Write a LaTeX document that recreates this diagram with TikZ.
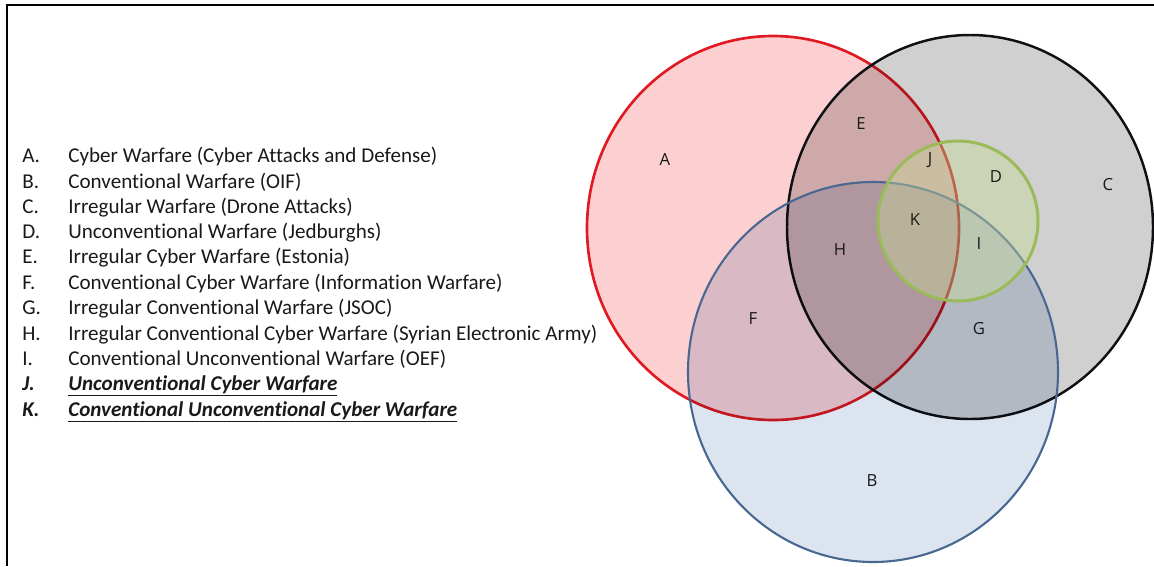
\documentclass[tikz,border=0pt]{standalone}
\usepackage{fontspec}
\setmainfont{Carlito}[Ligatures=NoCommon]
\newfontfamily\lblfont{Open Sans}
\definecolor{redline}{RGB}{225,25,35}
\definecolor{redfill}{RGB}{252,208,208}
\definecolor{blackline}{RGB}{15,15,20}
\definecolor{grayfill}{RGB}{208,208,208}
\definecolor{blueline}{RGB}{72,104,145}
\definecolor{bluefill}{RGB}{220,228,240}
\definecolor{greenline}{RGB}{155,187,89}
\definecolor{greenfill}{RGB}{200,220,150}
\definecolor{txt}{RGB}{25,25,25}
\tikzset{
  lgl/.style={anchor=base west,inner sep=0pt,text=txt,font=\fontsize{12pt}{14pt}\selectfont},
  lgt/.style={anchor=base west,inner sep=0pt,text=txt,font=\fontsize{12pt}{14pt}\selectfont},
  lgk/.style={anchor=base west,inner sep=0pt,text=txt,font=\fontsize{12pt}{14pt}\selectfont\bfseries\itshape},
  reg/.style={inner sep=0pt,text=txt,font=\lblfont\fontsize{9.5pt}{11pt}\selectfont},
  frame/.style={line width=1.2pt,black}
}
\begin{document}
\begin{tikzpicture}[x=0.02cm,y=-0.02cm]
\useasboundingbox (0,0) rectangle (1154,566);
% frame
\draw[frame] (7,566) -- (7,5) -- (1154,5);
% circles
\fill[redfill,blend mode=multiply] (773,228) ellipse [x radius=186,y radius=192];
\draw[redline,line width=1.5pt] (773,228) ellipse [x radius=186,y radius=192];
\fill[grayfill,blend mode=multiply] (970,227) ellipse [x radius=183,y radius=192];
\draw[blackline,line width=1.4pt] (970,227) ellipse [x radius=183,y radius=192];
\fill[bluefill,blend mode=multiply] (873,372) ellipse [x radius=185,y radius=190];
\draw[blueline,line width=1.2pt] (873,372) ellipse [x radius=185,y radius=190];
\fill[greenfill,fill opacity=0.4] (958,221) circle [radius=80];
\draw[greenline,line width=1.7pt] (958,221) circle [radius=80];
% region labels
\node[reg] (rA) at (665,160) {A};
\node[reg] (rE) at (861,124) {E};
\node[reg] (rJ) at (930,160) {J};
\node[reg] (rD) at (996,177) {D};
\node[reg] (rC) at (1108,185) {C};
\node[reg] (rK) at (915,220) {K};
\node[reg] (rH) at (840,250) {H};
\node[reg] (rI) at (979,244) {I};
\node[reg] (rF) at (753,319) {F};
\node[reg] (rG) at (979,329) {G};
\node[reg] (rB) at (872,481) {B};
% legend
\node[lgl] (la) at (22,162) {A.};
\node[lgt] (ta) at (68,162) {Cyber Warfare (Cyber Attacks and Defense)};
\node[lgl] (lb) at (22,188) {B.};
\node[lgt] (tb) at (68,188) {Conventional Warfare (OIF)};
\node[lgl] (lc) at (22,213) {C.};
\node[lgt] (tc) at (68,213) {Irregular Warfare (Drone Attacks)};
\node[lgl] (ld) at (22,238) {D.};
\node[lgt] (td) at (68,238) {Unconventional Warfare (Jedburghs)};
\node[lgl] (le) at (22,263) {E.};
\node[lgt] (te) at (68,263) {Irregular Cyber Warfare (Estonia)};
\node[lgl] (lf) at (22,289) {F.};
\node[lgt] (tf) at (68,289) {Conventional Cyber Warfare (Information Warfare)};
\node[lgl] (lg) at (22,314) {G.};
\node[lgt] (tg) at (68,314) {Irregular Conventional Warfare (JSOC)};
\node[lgl] (lh) at (22,340) {H.};
\node[lgt] (th) at (68,340) {Irregular Conventional Cyber Warfare (Syrian Electronic Army)};
\node[lgl] (li) at (22,365) {I.};
\node[lgt] (ti) at (68,365) {Conventional Unconventional Warfare (OEF)};
\node[lgk] (lj) at (22,390) {J.};
\node[lgk] (tj) at (68,390) {\underline{Unconventional Cyber Warfare}};
\node[lgk] (lk) at (22,416) {K.};
\node[lgk] (tk) at (68,416) {\underline{Conventional Unconventional Cyber Warfare}};
\end{tikzpicture}
\end{document}
